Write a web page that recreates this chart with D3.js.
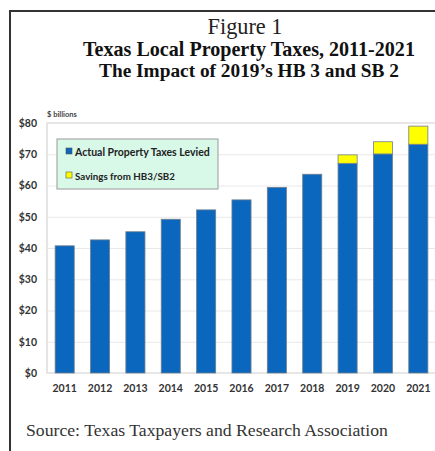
<!DOCTYPE html>
<html>
<head>
<meta charset="utf-8">
<script src="https://cdn.jsdelivr.net/npm/d3@7"></script>
<style>
  html, body { margin: 0; padding: 0; background: #fff; }
  svg { display: block; }
</style>
</head>
<body>
<svg id="chart" width="435" height="451"></svg>
<script>
// Texas local property taxes, $ billions
const years = ["2011", "2012", "2013", "2014", "2015", "2016", "2017", "2018", "2019", "2020", "2021"];
const actualLevied = [40.7, 42.6, 45.2, 49.2, 52.2, 55.4, 59.4, 63.6, 67.1, 70.1, 73.2];
const hbSavings = [0, 0, 0, 0, 0, 0, 0, 0, 2.7, 3.9, 5.8];
const yTicks = [0, 10, 20, 30, 40, 50, 60, 70, 80];
const seriesNames = ["Actual Property Taxes Levied", "Savings from HB3/SB2"];
const seriesColors = ["#0a67bd", "#ffff00"];

const svg = d3.select("#chart");
const W = 435, H = 451;
const plot = { left: 47, top: 123, right: 436, bottom: 373 };

// outer frame
svg.append("rect")
  .attr("x", 10).attr("y", 11)
  .attr("width", W + 20).attr("height", H + 20)
  .attr("fill", "none").attr("stroke", "#333").attr("stroke-width", 2);

// titles
const serif = "'Liberation Serif', 'DejaVu Serif', serif";
function fitText(sel, target) {
  const w = sel.node().getComputedTextLength();
  const fs = parseFloat(sel.attr("font-size"));
  sel.attr("font-size", (fs * target / w).toFixed(2));
}
const t1 = svg.append("text").attr("x", 245).attr("y", 34)
  .attr("text-anchor", "middle").attr("font-family", serif)
  .attr("font-size", 18).attr("fill", "#222").text("Figure 1");
fitText(t1, 75);
const t2 = svg.append("text").attr("x", 249).attr("y", 56)
  .attr("text-anchor", "middle").attr("font-family", serif)
  .attr("font-weight", "bold").attr("font-size", 17).attr("fill", "#111")
  .text("Texas Local Property Taxes, 2011-2021");
fitText(t2, 332);
const t3 = svg.append("text").attr("x", 249).attr("y", 77)
  .attr("text-anchor", "middle").attr("font-family", serif)
  .attr("font-weight", "bold").attr("font-size", 17).attr("fill", "#111")
  .text("The Impact of 2019\u2019s HB 3 and SB 2");
fitText(t3, 300);

// scales
const x = d3.scaleBand().domain(years).range([plot.left, plot.right]).paddingInner(0.46).paddingOuter(0.23);
const y = d3.scaleLinear().domain([0, 80]).range([plot.bottom, plot.top]);

// plot frame and gridlines
svg.append("rect")
  .attr("x", plot.left).attr("y", plot.top)
  .attr("width", plot.right - plot.left).attr("height", plot.bottom - plot.top)
  .attr("fill", "#fff").attr("stroke", "#d4d4d4").attr("stroke-width", 1.2);

const sans = "Lato, 'Open Sans', sans-serif";
const yAxis = svg.append("g")
  .attr("transform", `translate(${plot.left},0)`)
  .call(d3.axisLeft(y).tickValues(yTicks).tickFormat(d => "$" + d)
    .tickSize(-(plot.right - plot.left)).tickPadding(10));
yAxis.select(".domain").remove();
yAxis.selectAll(".tick line").attr("stroke", "#e8e8e8").attr("stroke-width", 1);
yAxis.selectAll(".tick text")
  .attr("font-family", sans).attr("font-weight", "bold")
  .attr("font-size", 10.5).attr("fill", "#333");

svg.append("text").attr("x", 47).attr("y", 117)
  .attr("font-family", sans).attr("font-weight", "bold")
  .attr("font-size", 7.5).attr("fill", "#444").text("$ billions");

// stacked bars
const rows = years.map((yr, i) => ({ year: yr, actual: actualLevied[i], savings: hbSavings[i] }));
const stack = d3.stack().keys(["actual", "savings"])(rows);
svg.append("g").selectAll("g")
  .data(stack).join("g")
  .attr("fill", (d, i) => seriesColors[i])
  .selectAll("rect")
  .data(d => d.filter(p => p[1] > p[0]))
  .join("rect")
  .attr("x", d => x(d.data.year))
  .attr("width", x.bandwidth())
  .attr("y", d => y(d[1]))
  .attr("height", d => y(d[0]) - y(d[1]))
  .attr("stroke", "#6f7f8f").attr("stroke-width", 0.8);

// x axis labels
const xAxis = svg.append("g")
  .attr("transform", `translate(0,${plot.bottom})`)
  .call(d3.axisBottom(x).tickSize(0).tickPadding(12));
xAxis.select(".domain").remove();
xAxis.selectAll(".tick text")
  .attr("font-family", sans).attr("font-weight", "bold")
  .attr("font-size", 10.5).attr("fill", "#333");

// legend
const lg = svg.append("g").attr("transform", "translate(57,139)");
lg.append("rect").attr("width", 161).attr("height", 50)
  .attr("fill", "#d8f8e8").attr("stroke", "#9a9a9a").attr("stroke-width", 1);
const legendWidths = [135, 100];
seriesNames.forEach((name, i) => {
  const gy = 13 + i * 24;
  lg.append("rect").attr("x", 9).attr("y", gy - 4).attr("width", 6).attr("height", 6)
    .attr("fill", seriesColors[i]).attr("stroke", "#555").attr("stroke-width", 0.6);
  const t = lg.append("text").attr("x", 18).attr("y", gy + 3.5)
    .attr("font-family", sans).attr("font-weight", "bold")
    .attr("font-size", 10).attr("fill", "#222").text(name);
  fitText(t, legendWidths[i]);
});

// source note
const src = svg.append("text").attr("x", 26).attr("y", 436)
  .attr("font-family", serif).attr("font-size", 16).attr("fill", "#333")
  .text("Source: Texas Taxpayers and Research Association");
fitText(src, 362);
</script>
</body>
</html>
